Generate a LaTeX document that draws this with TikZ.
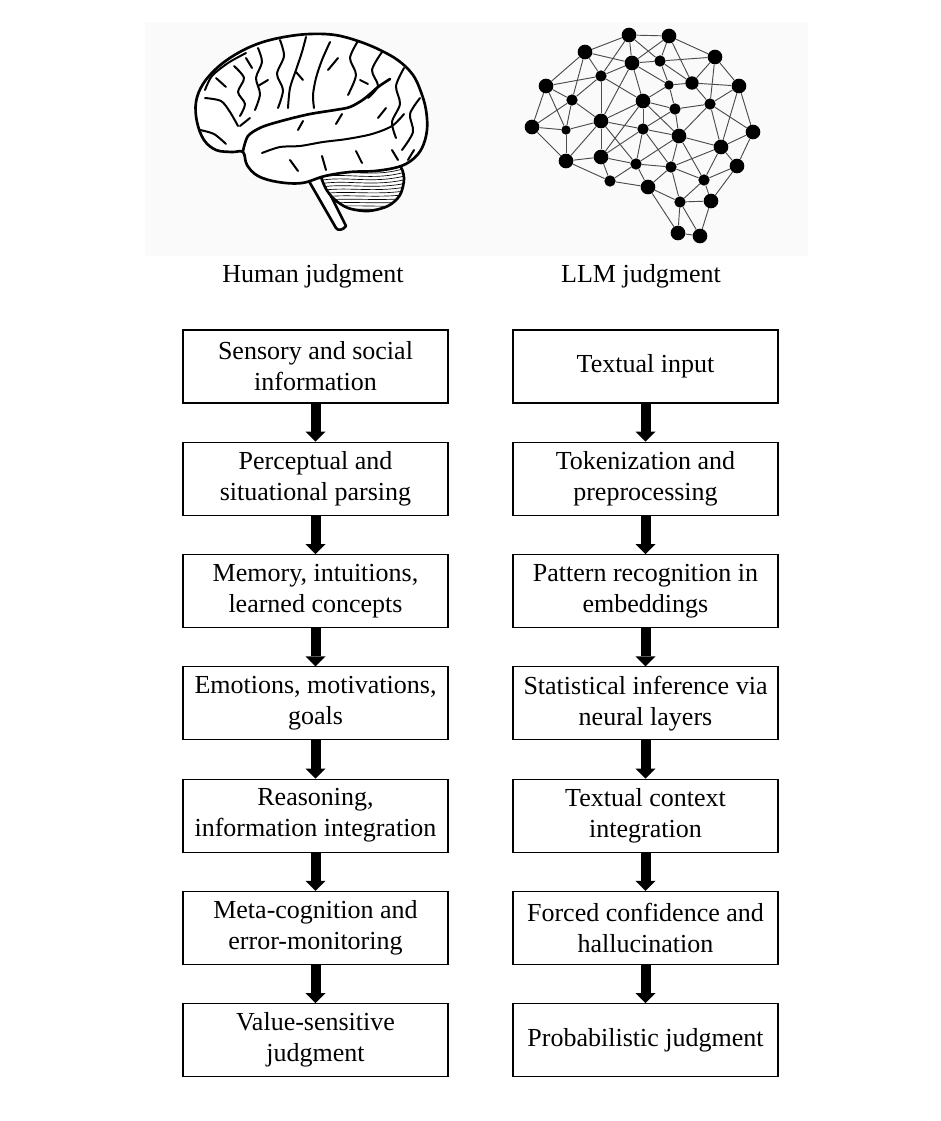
\documentclass[tikz,border=0pt]{standalone}
\usepackage{fontspec}
\setmainfont{Liberation Serif}
\usetikzlibrary{positioning,arrows.meta}

\begin{document}
\begin{tikzpicture}[x=0.75pt, y=-0.75pt, node distance=28.65pt,
    box/.style={draw, line width=0.8pt, minimum width=198.75pt, minimum height=54.75pt, align=center, inner sep=2pt, font=\fontsize{19.5}{23.4}\selectfont},
    title/.style={font=\fontsize{19.5}{23.4}\selectfont},
    flow/.style={line width=7.5pt, -{Triangle[width=15pt,length=7.5pt,line width=0pt]}},
    dot/.style={circle, fill=black, inner sep=0pt, minimum size=#1},
    link/.style={draw=black!70, line width=0.7pt},
    brain/.style={line width=2pt, line join=round, line cap=round},
    sulcus/.style={line width=1.5pt, line cap=round, line join=round}]
    \useasboundingbox (0,0) rectangle (940,1121);
    \fill[black!2] (145,22) rectangle (808,256);

    % human brain
    \draw[brain, fill=white] (306,176) -- (336,228) to[out=-60,in=-120] (346,226) -- (322,178) -- cycle;
    \draw[brain, fill=white] plot[smooth cycle] coordinates {(322,172) (345,165) (375,163) (398,164) (404,178) (400,195) (388,206) (368,211) (348,208) (334,199) (325,187)};
    \begin{scope}
        \clip plot[smooth cycle] coordinates {(322,172) (345,165) (375,163) (398,164) (404,178) (400,195) (388,206) (368,211) (348,208) (334,199) (325,187)};
        \foreach \k in {0,...,11}
            \draw[line width=0.5pt] (318,174+3.4*\k) .. controls (345,168+3.6*\k) and (372,179+2.8*\k) .. (406,168+3.8*\k);
    \end{scope}
    \draw[brain, fill=white] plot[smooth cycle, tension=0.6] coordinates {(204,140) (197,122) (196,102) (203,84) (218,67) (238,53) (260,43) (284,37) (310,34) (335,35) (358,41) (380,50) (399,61) (413,75) (421,92) (426,110) (427,130) (422,148) (412,160) (398,167) (375,171) (350,172) (325,176) (302,183) (278,182) (258,176) (247,165) (243,152) (232,152) (216,150)};
    \draw[brain] plot[smooth] coordinates {(243,151) (248,136) (262,127) (285,120) (310,114) (335,110) (350,107) (364,99) (378,87) (390,79)};
    \foreach \s in {
        {(306,37) (302,52) (296,70) (290,88) (288,108)},
        {(330,42) (322,60) (316,78) (313,95) (314,108)},
        {(258,48) (262,62) (256,78) (260,94) (255,110)},
        {(234,66) (244,78) (238,92) (245,104) (240,116)},
        {(205,98) (221,101) (230,112) (238,126)},
        {(200,130) (214,134) (226,144)},
        {(280,40) (284,56) (277,74) (283,90) (278,108)},
        {(358,41) (350,58) (356,75) (348,95)},
        {(382,52) (372,70) (378,86) (368,98)},
        {(404,68) (396,86) (400,104) (392,122) (396,138)},
        {(420,98) (410,114) (413,132) (402,150)},
        {(262,153) (280,147) (300,146) (323,142) (347,139) (372,134) (392,126) (404,114)},
        {(205,90) (212,76) (228,63) (246,53)},
        {(290,160) (298,171)}, {(322,156) (326,170)}, {(356,151) (362,163)},
        {(216,78) (226,87)}, {(246,58) (252,68)}, {(338,58) (328,70)},
        {(298,130) (303,121)}, {(336,124) (342,114)}, {(378,118) (386,108)},
        {(268,80) (258,86)}, {(296,72) (303,80)}, {(360,80) (368,84)},
        {(392,150) (398,160)}, {(414,150) (408,160)}, {(240,126) (250,118)}}
        \draw[sulcus] plot[smooth] coordinates \s;

    % network brain
    \node[dot=11pt] (n1) at (629,35) {};
    \node[dot=11pt] (n2) at (669,36) {};
    \node[dot=11pt] (n3) at (585,52) {};
    \node[dot=11pt] (n4) at (632,63) {};
    \node[dot=8.5pt] (n5) at (660,61) {};
    \node[dot=11pt] (n6) at (715,57) {};
    \node[dot=11pt] (n7) at (546,86) {};
    \node[dot=8.5pt] (n8) at (601,76) {};
    \node[dot=7pt] (n9) at (669,85) {};
    \node[dot=10pt] (n10) at (692,83) {};
    \node[dot=11pt] (n11) at (739,86) {};
    \node[dot=8.5pt] (n12) at (572,100) {};
    \node[dot=11pt] (n13) at (643,101) {};
    \node[dot=8.5pt] (n14) at (675,109) {};
    \node[dot=8.5pt] (n15) at (710,104) {};
    \node[dot=11pt] (n16) at (532,127) {};
    \node[dot=7pt] (n17) at (566,130) {};
    \node[dot=11pt] (n18) at (601,121) {};
    \node[dot=8.5pt] (n19) at (643,129) {};
    \node[dot=11pt] (n20) at (679,136) {};
    \node[dot=11pt] (n21) at (753,132) {};
    \node[dot=11pt] (n22) at (721,147) {};
    \node[dot=11pt] (n23) at (566,161) {};
    \node[dot=11pt] (n24) at (601,157) {};
    \node[dot=8.5pt] (n25) at (636,164) {};
    \node[dot=8.5pt] (n26) at (671,167) {};
    \node[dot=11pt] (n27) at (737,166) {};
    \node[dot=8.5pt] (n28) at (610,181) {};
    \node[dot=11pt] (n29) at (648,187) {};
    \node[dot=8.5pt] (n30) at (704,180) {};
    \node[dot=8.5pt] (n31) at (680,202) {};
    \node[dot=11pt] (n32) at (711,201) {};
    \node[dot=11pt] (n33) at (678,233) {};
    \node[dot=11pt] (n34) at (700,236) {};
    \foreach \a/\b in {1/2,1/3,1/4,1/5,1/8,2/4,2/5,2/6,2/10,3/4,3/7,3/8,3/12,4/5,4/8,4/9,4/13,4/18,
        5/6,5/9,5/10,6/10,6/11,6/15,7/8,7/12,7/16,7/17,8/12,8/13,8/18,9/10,9/13,9/14,10/11,10/15,
        11/15,11/21,11/22,12/16,12/17,12/18,13/14,13/18,13/19,13/20,13/24,14/15,14/19,14/20,
        15/20,15/21,15/22,16/17,16/23,17/18,17/23,18/19,18/23,18/24,18/25,19/20,19/24,19/25,19/26,
        20/22,20/25,20/26,20/30,21/22,21/27,22/26,22/27,22/30,23/24,23/28,24/25,24/28,
        25/26,25/28,25/29,26/29,26/30,26/31,27/30,27/32,28/29,29/31,29/33,30/31,30/32,
        31/32,31/33,31/34,32/34,33/34}
        \draw[link] (n\a) -- (n\b);

    \node[title] (htitle) at (313,276) {Human judgment};
    \node[title] (ltitle) at (641,276) {LLM judgment};

    \node[box] (h1) at (315.5,366.5) {Sensory and social\\information};
    \node[box, below=of h1] (h2) {Perceptual and\\situational parsing};
    \node[box, below=of h2] (h3) {Memory, intuitions,\\learned concepts};
    \node[box, below=of h3] (h4) {Emotions, motivations,\\goals};
    \node[box, below=of h4] (h5) {Reasoning,\\information integration};
    \node[box, below=of h5] (h6) {Meta-cognition and\\error-monitoring};
    \node[box, below=of h6] (h7) {Value-sensitive\\judgment};

    \node[box] (l1) at (645.5,366.5) {Textual input};
    \node[box, below=of l1] (l2) {Tokenization and\\preprocessing};
    \node[box, below=of l2] (l3) {Pattern recognition in\\embeddings};
    \node[box, below=of l3] (l4) {Statistical inference via\\neural layers};
    \node[box, below=of l4] (l5) {Textual context\\integration};
    \node[box, below=of l5] (l6) {Forced confidence and\\hallucination};
    \node[box, below=of l6] (l7) {Probabilistic judgment};

    \draw[flow] (h1) -- (h2);
    \draw[flow] (h2) -- (h3);
    \draw[flow] (h3) -- (h4);
    \draw[flow] (h4) -- (h5);
    \draw[flow] (h5) -- (h6);
    \draw[flow] (h6) -- (h7);
    \draw[flow] (l1) -- (l2);
    \draw[flow] (l2) -- (l3);
    \draw[flow] (l3) -- (l4);
    \draw[flow] (l4) -- (l5);
    \draw[flow] (l5) -- (l6);
    \draw[flow] (l6) -- (l7);
\end{tikzpicture}
\end{document}
